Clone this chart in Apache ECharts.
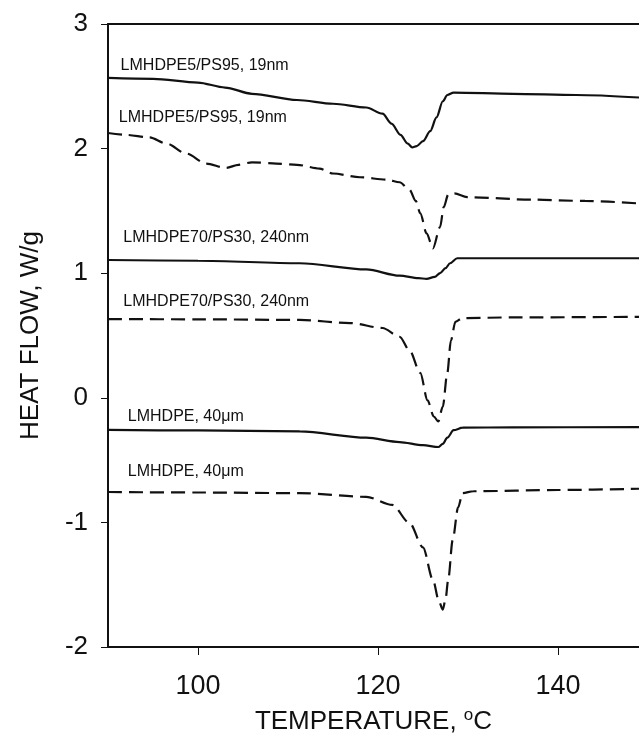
<!DOCTYPE html>
<html>
<head>
<meta charset="utf-8">
<script src="https://cdn.jsdelivr.net/npm/echarts@6/dist/echarts.min.js"></script>
<style>
  html, body { margin: 0; padding: 0; background: #fff; }
  #board { width: 639px; height: 749px; }
</style>
</head>
<body>
<div id="board"></div>
<script>
// DSC curves, temperature (°C) vs heat flow (W/g)
var temp1 = [90, 95, 100, 103, 106, 111, 115, 118.7, 120.5, 121.5, 122.5, 123.3, 123.8, 124.3, 125, 125.8, 126.5, 127.2, 127.7, 128.4, 135, 142, 149];
var flow1 = [2.567, 2.56, 2.53, 2.49, 2.44, 2.39, 2.36, 2.33, 2.28, 2.2, 2.11, 2.04, 2.01, 2.02, 2.06, 2.14, 2.25, 2.38, 2.43, 2.45, 2.44, 2.43, 2.41];

var temp2 = [90, 92, 94.6, 96.5, 98.7, 100.9, 103.1, 104.5, 106, 108.7, 111, 113.5, 115, 118, 121, 122.4, 123.5, 124.2, 124.7, 125.4, 126.1, 126.9, 127.3, 127.8, 128.5, 129.9, 137.2, 143, 149];
var flow2 = [2.125, 2.11, 2.09, 2.04, 1.96, 1.88, 1.845, 1.87, 1.89, 1.88, 1.87, 1.84, 1.8, 1.77, 1.75, 1.73, 1.67, 1.58, 1.48, 1.32, 1.2, 1.37, 1.53, 1.63, 1.64, 1.61, 1.59, 1.58, 1.56];

var temp3 = [90, 100, 111.3, 118.7, 122.4, 124.5, 125.4, 126.3, 126.9, 127.5, 128, 128.8, 135, 149];
var flow3 = [1.106, 1.1, 1.08, 1.03, 0.98, 0.96, 0.955, 0.97, 1.0, 1.04, 1.08, 1.12, 1.12, 1.12];

var temp4 = [90, 100, 111.3, 116.9, 120.5, 122.4, 123.5, 124.7, 125.5, 126.2, 126.7, 127.2, 127.7, 128.1, 128.6, 129.4, 135, 149];
var flow4 = [0.632, 0.63, 0.625, 0.6, 0.56, 0.49, 0.38, 0.2, -0.02, -0.15, -0.19, -0.07, 0.2, 0.46, 0.61, 0.64, 0.645, 0.65];

var temp5 = [90, 100, 111.3, 118.7, 122.4, 125, 126.7, 127.2, 127.7, 128.4, 129.4, 135, 149];
var flow5 = [-0.258, -0.262, -0.27, -0.32, -0.355, -0.38, -0.395, -0.37, -0.32, -0.26, -0.24, -0.237, -0.235];

var temp6 = [90, 100, 111.3, 118.7, 121.6, 123.5, 125, 126.1, 126.8, 127.2, 127.5, 127.8, 128.3, 128.9, 129.4, 130.6, 140, 149];
var flow6 = [-0.756, -0.76, -0.765, -0.795, -0.86, -1.005, -1.2, -1.46, -1.64, -1.70, -1.62, -1.46, -1.14, -0.88, -0.765, -0.75, -0.74, -0.73];

// curve captions and where they sit (data units)
var labelText = ["LMHDPE5/PS95, 19nm", "LMHDPE5/PS95, 19nm", "LMHDPE70/PS30, 240nm", "LMHDPE70/PS30, 240nm", "LMHDPE, 40\u03bcm", "LMHDPE, 40\u03bcm"];
var labelX = [91.4, 91.2, 91.7, 91.7, 92.2, 92.2];
var labelY = [2.67, 2.245, 1.283, 0.769, -0.154, -0.596];

var xTicks = [100, 120, 140];

var FONT = "Liberation Sans";

function zip(xs, ys) {
  var out = [];
  for (var i = 0; i < xs.length; i++) out.push([xs[i], ys[i]]);
  return out;
}

function curve(xs, ys, dashed, idx) {
  return {
    type: "line",
    data: zip(xs, ys),
    showSymbol: false,
    smooth: 0.3,
    smoothMonotone: "x",
    lineStyle: { color: "#111", width: 2.2, type: dashed ? [14, 7] : "solid" },
    markPoint: {
      symbol: "circle",
      symbolSize: 0,
      silent: true,
      label: {
        show: true,
        position: "right",
        distance: 0,
        color: "#111",
        fontFamily: FONT,
        fontSize: 16,
        formatter: labelText[idx]
      },
      data: [{ coord: [labelX[idx], labelY[idx]] }]
    }
  };
}

var chart = echarts.init(document.getElementById("board"));
chart.setOption({
  animation: false,
  grid: { left: 108, right: 0, top: 24, bottom: 102 },
  xAxis: [
    {
      type: "value",
      position: "bottom",
      min: 90,
      max: 149,
      name: "TEMPERATURE, {sup|o}C",
      nameLocation: "middle",
      nameGap: 60,
      nameTextStyle: {
        fontFamily: FONT, fontSize: 26, color: "#111",
        rich: { sup: { fontFamily: FONT, fontSize: 17, color: "#111", verticalAlign: "top", padding: [0, 0, 12, 0] } }
      },
      axisLine: { show: true, onZero: false, lineStyle: { color: "#111", width: 2 } },
      axisTick: { show: true, inside: false, customValues: xTicks, length: 8, lineStyle: { color: "#111", width: 1 } },
      axisLabel: { customValues: xTicks, margin: 26, fontFamily: FONT, fontSize: 27, color: "#111" },
      splitLine: { show: false }
    },
    {
      type: "value",
      position: "top",
      min: 90,
      max: 149,
      axisLine: { show: true, onZero: false, lineStyle: { color: "#111", width: 2 } },
      axisTick: { show: false },
      axisLabel: { show: false },
      splitLine: { show: false }
    }
  ],
  yAxis: {
    type: "value",
    min: -2,
    max: 3,
    interval: 1,
    name: "HEAT FLOW, W/g",
    nameLocation: "middle",
    nameGap: 64,
    nameTextStyle: { fontFamily: FONT, fontSize: 26, color: "#111" },
    axisLine: { show: true, onZero: false, lineStyle: { color: "#111", width: 2 } },
    axisTick: { show: true, length: 7, lineStyle: { color: "#111", width: 1 } },
    axisLabel: { margin: 20, fontFamily: FONT, fontSize: 26, color: "#111" },
    splitLine: { show: false }
  },
  series: [
    curve(temp1, flow1, false, 0),
    curve(temp2, flow2, true, 1),
    curve(temp3, flow3, false, 2),
    curve(temp4, flow4, true, 3),
    curve(temp5, flow5, false, 4),
    curve(temp6, flow6, true, 5)
  ]
});
</script>
</body>
</html>
